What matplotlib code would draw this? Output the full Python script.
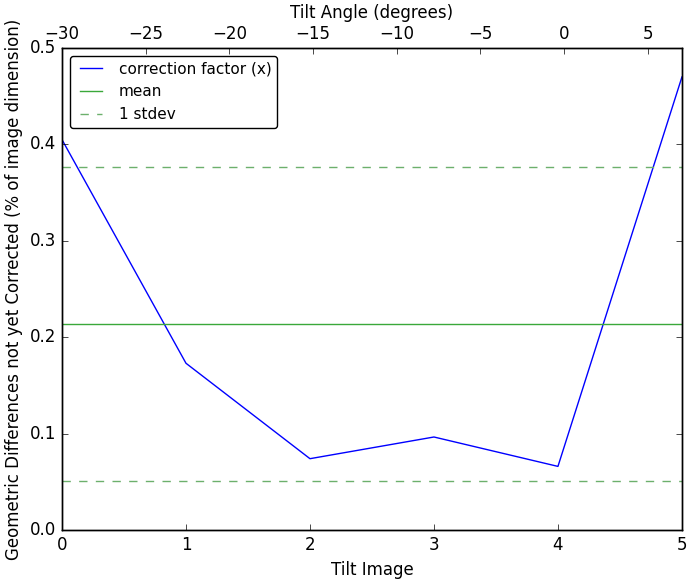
import matplotlib
matplotlib.use("Agg")
import matplotlib.pyplot as plt
import numpy as np

plt.style.use("classic")

tilt_image = [0, 1, 2, 3, 4, 5]
correction_x = [0.405, 0.173, 0.074, 0.0965, 0.066, 0.470]
tilt_angle_range = [-30, 7.05]

vals = np.array(correction_x)
mean = vals.mean()
std = vals.std()

fig = plt.figure(figsize=(6.95, 5.79), dpi=100, facecolor="white")
ax = fig.add_axes([0.0892, 0.0846, 0.892, 0.8324])
ax.plot(tilt_image, correction_x, color="b", label="correction factor (x)")
ax.axhline(mean, color="#3aa83a", label="mean")
ax.axhline(mean + std, color="#6cb06c", ls="--", label="1 stdev")
ax.axhline(mean - std, color="#6cb06c", ls="--")
ax.set_xlim(0, 5)
ax.set_ylim(0, 0.5)
ax.set_xlabel("Tilt Image")
ax.set_ylabel("Geometric Differences not yet Corrected (% of image dimension)")
ax.xaxis.set_ticks_position("bottom")
ax.legend(loc="upper left", fontsize=11, fancybox=True)

ax2 = ax.twiny()
ax2.set_xlim(*tilt_angle_range)
ax2.set_xlabel("Tilt Angle (degrees)")

fig.savefig("out.png", dpi=100, facecolor="white")
